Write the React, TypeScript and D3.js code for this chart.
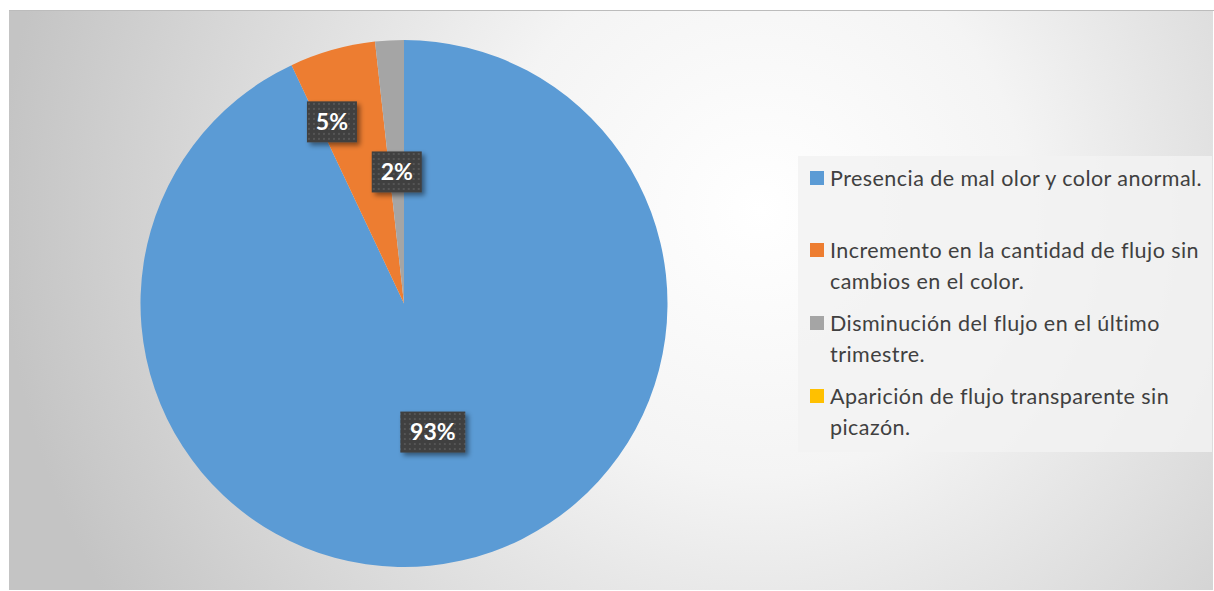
import React from "react";
import * as d3 from "d3";

const categories = [
  "Presencia de mal olor y color anormal.",
  "Incremento en la cantidad de flujo sin cambios en el color.",
  "Disminución del flujo en el último trimestre.",
  "Aparición de flujo transparente sin picazón.",
];
const legendLines = [
  ["Presencia de mal olor y color anormal."],
  ["Incremento en la cantidad de flujo sin", "cambios en el color."],
  ["Disminución del flujo en el último", "trimestre."],
  ["Aparición de flujo transparente sin", "picazón."],
];
const values = [53, 3, 1, 0];
const colors = ["#5B9BD5", "#ED7D31", "#A5A5A5", "#FFC000"];

const W = 1214;
const H = 591;
const cx = 404;
const cy = 303.5;
const R = 263.5;
// label layout (radius fraction, shifts)
const labelPos = [
  { rf: 0.5, dx: 0, dy: 0 },
  { rf: 0.74, dx: -19, dy: 6 },
  { rf: 0.5, dx: 0, dy: 0 },
];
const legendY = [186, 258, 331, 404];

export default function App() {
  const total = d3.sum(values);
  const pie = d3.pie<number>().sort(null).value((d) => d);
  const arcs = pie(values);
  const arcGen = d3.arc<d3.PieArcDatum<number>>().innerRadius(0).outerRadius(R);
  const fmt = d3.format(".0%");

  return (
    <svg
      width={W}
      height={H}
      style={{ position: "absolute", left: 0, top: 0 }}
      fontFamily="Lato, 'Open Sans', sans-serif"
    >
      <defs>
        <radialGradient id="bg" cx="760" cy="210" r="760" gradientUnits="userSpaceOnUse">
          <stop offset="0" stopColor="#ffffff" />
          <stop offset="0.35" stopColor="#f4f4f4" />
          <stop offset="1" stopColor="#c4c4c4" />
        </radialGradient>
        <pattern id="dots" width="5" height="5" patternUnits="userSpaceOnUse">
          <rect width="5" height="5" fill="#3f3f3f" />
          <rect x="1" y="1" width="2" height="2" fill="#555555" />
        </pattern>
        <filter id="sh" x="-30%" y="-30%" width="160%" height="160%">
          <feDropShadow dx="3" dy="3" stdDeviation="2.5" floodColor="#000" floodOpacity="0.45" />
        </filter>
      </defs>
      <rect x={9} y={10} width={W - 10} height={H - 11} fill="url(#bg)" />
      <line x1={9} x2={W} y1={10.5} y2={10.5} stroke="#bcbcbc" strokeWidth={1} />
      <g transform={`translate(${cx},${cy})`}>
        {arcs.map((a, i) => (
          <path key={i} d={arcGen(a) || ""} fill={colors[i]} />
        ))}
        {arcs.slice(0, 3).map((a, i) => {
          const lr = R * labelPos[i].rf;
          const lab = d3.arc<d3.PieArcDatum<number>>().innerRadius(lr).outerRadius(lr);
          const [x, y] = lab.centroid(a);
          const txt = fmt(values[i] / total);
          const bw = txt.length > 2 ? 65 : 50;
          const bh = 41;
          const lx = x + labelPos[i].dx;
          const ly = y + labelPos[i].dy;
          return (
            <g key={i} transform={`translate(${lx},${ly})`}>
              <rect x={-bw / 2} y={-bh / 2} width={bw} height={bh} fill="url(#dots)" filter="url(#sh)" />
              <text
                textAnchor="middle"
                dy="0.36em"
                fill="#ffffff"
                fontWeight="bold"
                fontSize={23}
              >
                {txt}
              </text>
            </g>
          );
        })}
      </g>
      <rect x={798} y={156} width={414} height={296} fill="#f2f2f2" fillOpacity={0.85} />
      {legendLines.map((lines, i) => (
        <g key={i}>
          <rect x={810} y={legendY[i] - 15} width={14} height={14} fill={colors[i]} />
          <text x={830} y={legendY[i]} fontSize={21.5} fill="#404040" letterSpacing={0.45}>
            {lines.map((l, j) => (
              <tspan key={j} x={830} dy={j === 0 ? 0 : 31}>
                {l}
              </tspan>
            ))}
          </text>
        </g>
      ))}
    </svg>
  );
}
